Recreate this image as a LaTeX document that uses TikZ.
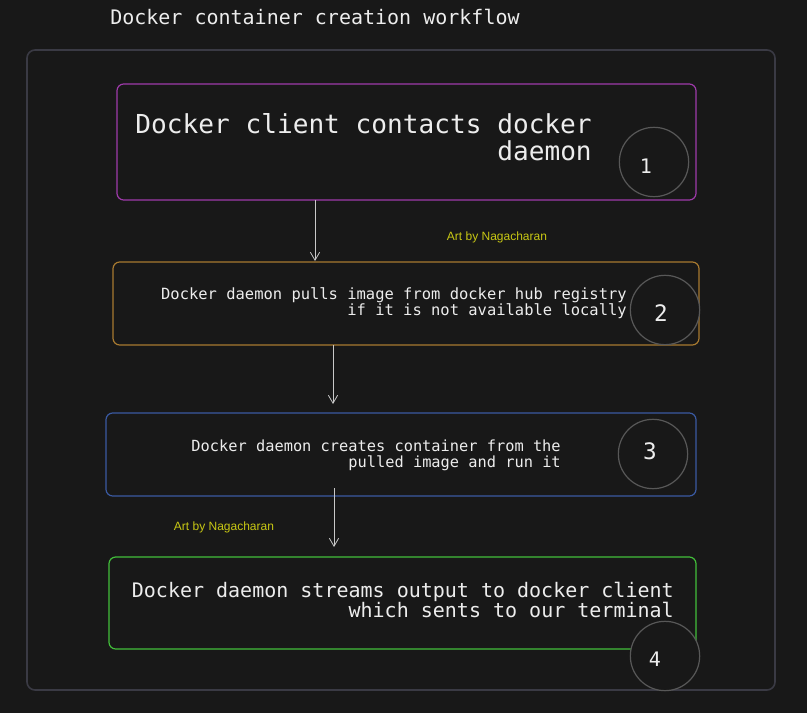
\documentclass[tikz,border=0pt]{standalone}
\usepackage{fontspec}
\setmonofont{DejaVu Sans Mono}
\newfontfamily\artfont{Liberation Sans}
\usetikzlibrary{arrows.meta}
\definecolor{bgc}{HTML}{181818}
\definecolor{framec}{HTML}{3A3A44}
\definecolor{txtc}{HTML}{EDEDED}
\definecolor{purplec}{HTML}{9E3AAA}
\definecolor{orangec}{HTML}{A87A30}
\definecolor{bluec}{HTML}{3A5AA2}
\definecolor{greenc}{HTML}{42BE3A}
\definecolor{circc}{HTML}{585858}
\definecolor{arrc}{HTML}{C8C8C8}
\definecolor{artc}{HTML}{C8C814}
\tikzset{
  x=0.75pt, y=-0.75pt,
  stepbox/.style={rounded corners=5pt, line width=0.9pt},
  numcirc/.style={circle, draw=circc, fill=bgc, line width=0.9pt, minimum size=52pt, inner sep=0pt},
  numtxt/.style={text=txtc, inner sep=0pt},
  flow/.style={-{Straight Barb[length=6pt,width=7pt]}, draw=arrc, line width=0.6pt},
  lbl/.style={text=txtc, inner sep=0pt, align=right, anchor=east},
  art/.style={text=artc, inner sep=0pt, font=\artfont\fontsize{9}{11}\selectfont}
}
\begin{document}
\begin{tikzpicture}
\fill[bgc] (0,0) rectangle (807,713);
\useasboundingbox (0,0) rectangle (807,713);
\node[text=txtc, anchor=west, inner sep=0pt, font=\ttfamily\fontsize{15}{18}\selectfont] (title) at (110,17) {Docker container creation workflow};
\draw[framec, line width=1.2pt, rounded corners=6pt] (27,50) rectangle (775,690);
% box 1
\draw[purplec, stepbox] (117,84) rectangle (696,200);
\node[lbl, font=\ttfamily\fontsize{19.6}{20.3}\selectfont] (t1) at (592,137) {Docker client contacts docker\\daemon};
\node[numcirc] (c1) at (654,162) {};
\node[numtxt, font=\ttfamily\fontsize{15}{18}\selectfont] (n1) at (646,166) {1};
% box 2
\draw[orangec, stepbox] (113,262) rectangle (699,345);
\node[lbl, font=\ttfamily\fontsize{11.6}{12}\selectfont] (t2) at (627,303) {Docker daemon pulls image from docker hub registry\\if it is not available locally};
\node[numcirc] (c2) at (665,310) {};
\node[numtxt, font=\ttfamily\fontsize{17}{18}\selectfont] (n2) at (661,313) {2};
% box 3
\draw[bluec, stepbox] (106,413) rectangle (696,496);
\node[lbl, font=\ttfamily\fontsize{11.5}{12}\selectfont] (t3) at (561,455) {Docker daemon creates container from the\\pulled image and run it};
\node[numcirc] (c3) at (653,454) {};
\node[numtxt, font=\ttfamily\fontsize{17}{18}\selectfont] (n3) at (650,451) {3};
% box 4
\draw[greenc, stepbox] (109,557) rectangle (696,649);
\node[lbl, font=\ttfamily\fontsize{15}{15}\selectfont] (t4) at (674,600) {Docker daemon streams output to docker client\\which sents to our terminal};
\node[numcirc] (c4) at (665,656) {};
\node[numtxt, font=\ttfamily\fontsize{15}{18}\selectfont] (n4) at (655,659) {4};
% arrows
\coordinate (a1s) at (315,200); \coordinate (a1e) at (315,261);
\coordinate (a2s) at (333,345); \coordinate (a2e) at (333,404);
\coordinate (a3s) at (334,488); \coordinate (a3e) at (334,547);
\draw[flow] (a1s) -- (a1e);
\draw[flow] (a2s) -- (a2e);
\draw[flow] (a3s) -- (a3e);
% credits
\node[art] (art1) at (497,237) {Art by Nagacharan};
\node[art] (art2) at (224,527) {Art by Nagacharan};
\end{tikzpicture}
\end{document}
